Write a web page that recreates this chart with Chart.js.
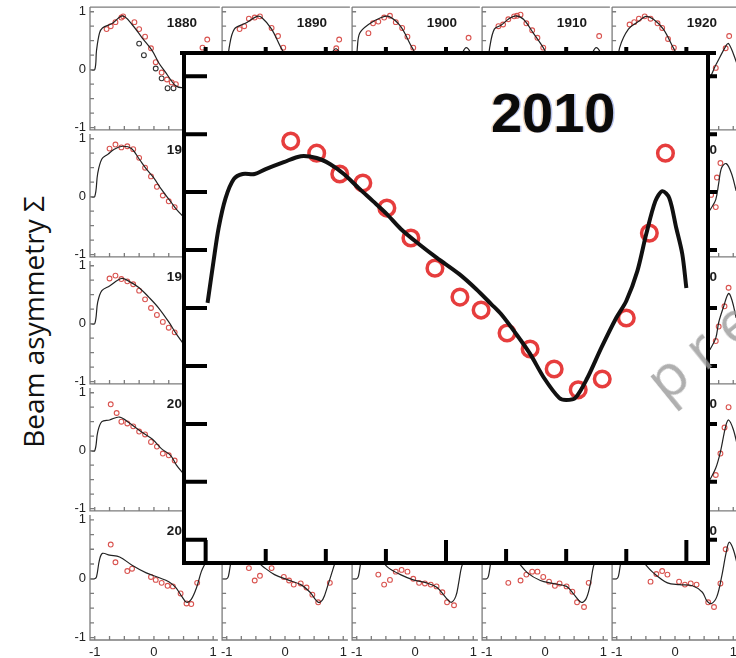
<!DOCTYPE html>
<html>
<head>
<meta charset="utf-8">
<script src="https://cdn.jsdelivr.net/npm/chart.js@4.4.1/dist/chart.umd.min.js"></script>
<style>
  html, body { margin: 0; padding: 0; background: #fff; }
  #wrap { position: relative; width: 736px; height: 658px; overflow: hidden; background: #fff; }
  #wrap canvas { position: absolute; }
  #ytitle {
    position: absolute; left: 33px; top: 322px;
    transform: translate(-50%, -50%) rotate(-90deg);
    font: 28px 'Open Sans', sans-serif; color: #111; white-space: nowrap;
  }
  #wm {
    position: absolute; left: 634px; top: 364px;
    transform: rotate(-39deg); transform-origin: 0 0;
    font: 58px 'Open Sans', sans-serif; color: rgba(155,155,155,0.8);
    letter-spacing: 14px; white-space: nowrap; line-height: 1;
  }
</style>
</head>
<body>
<div id="wrap">
  <div id="ytitle">Beam asymmetry Σ</div>
</div>
<script>
// ── Data: small panels (x = cos θ, y = Σ) ───────────────────────────────────
const smallTicks = [-1, -0.75, -0.5, -0.25, 0, 0.25, 0.5, 0.75, 1];
const axisLabels = [-1, 0, 1];

const curve1880 = [[-1.08,0],[-1.0,0],[-0.97,0.33],[-0.92,0.63],[-0.87,0.72],[-0.7,0.8],[-0.53,0.93],[-0.37,0.78],[-0.2,0.55],[-0.03,0.33],[0.08,0.12],[0.2,-0.05],[0.28,-0.17],[0.37,-0.28],[0.5,-0.3],[0.65,-0.1],[0.8,0.25],[0.88,0.32],[1.0,0.2]];
const pts1880   = [[-0.8,0.70],[-0.73,0.75],[-0.65,0.82],[-0.55,0.9],[-0.52,0.92],[-0.33,0.82],[-0.25,0.70],[-0.15,0.57],[-0.05,0.37],[0.03,0.13],[0.13,-0.05],[0.22,-0.17],[0.3,-0.22],[0.37,-0.25],[0.82,0.38],[0.9,0.52]];
const blk1880   = [[-0.25,0.45],[-0.17,0.25],[0.03,0.02],[0.13,-0.15],[0.23,-0.32],[0.33,-0.32]];

const curve1890 = [[-1.08,0],[-1.0,0],[-0.96,0.37],[-0.87,0.7],[-0.68,0.8],[-0.48,0.92],[-0.4,0.9],[-0.23,0.7],[-0.07,0.38],[0.1,0.1],[0.3,-0.15],[0.5,-0.25],[0.65,-0.05],[0.8,0.28],[0.88,0.36],[1.0,0.2]];
const pts1890   = [[-0.78,0.7],[-0.7,0.75],[-0.62,0.88],[-0.52,0.9],[-0.43,0.92],[-0.23,0.72],[-0.12,0.58],[-0.03,0.38],[0.88,0.37],[0.93,0.52]];

const curve1900 = [[-1.08,0],[-1.02,0],[-0.99,0.38],[-0.95,0.63],[-0.8,0.78],[-0.58,0.9],[-0.45,0.92],[-0.25,0.75],[-0.05,0.38],[0.15,0.05],[0.35,-0.2],[0.55,-0.25],[0.7,0],[0.82,0.3],[0.88,0.38],[0.95,0.3],[1.05,0.05]];
const pts1900   = [[-0.8,0.63],[-0.72,0.8],[-0.63,0.83],[-0.53,0.9],[-0.43,0.93],[-0.33,0.82],[-0.22,0.72],[-0.13,0.57],[-0.03,0.38],[0.92,0.55]];

const curve1910 = [[-1.08,0],[-1.0,0],[-0.95,0.38],[-0.87,0.7],[-0.75,0.77],[-0.62,0.88],[-0.5,0.93],[-0.37,0.87],[-0.2,0.63],[-0.03,0.38],[0.15,0.05],[0.35,-0.2],[0.55,-0.25],[0.7,0],[0.82,0.3],[0.88,0.38],[0.95,0.3],[1.05,0.05]];
const pts1910   = [[-0.8,0.75],[-0.72,0.78],[-0.63,0.87],[-0.53,0.92],[-0.48,0.93],[-0.42,0.95],[-0.32,0.8],[-0.22,0.68],[-0.13,0.55],[-0.03,0.38],[0.93,0.58]];

const curve1920 = [[-1.08,0],[-1.0,0],[-0.95,0.38],[-0.8,0.7],[-0.63,0.83],[-0.5,0.92],[-0.37,0.87],[-0.2,0.7],[-0.03,0.38],[0.15,0.05],[0.35,-0.2],[0.55,-0.2],[0.7,0.08],[0.88,0.42],[0.92,0.45],[1.0,0.28],[1.08,0.05]];
const pts1920   = [[-0.78,0.78],[-0.7,0.82],[-0.62,0.88],[-0.52,0.92],[-0.42,0.88],[-0.3,0.8],[-0.22,0.72],[-0.12,0.53],[-0.02,0.38],[0.7,0.03],[0.87,0.37],[0.93,0.58]];

const curve1930 = [[-1.08,0],[-1.0,0],[-0.95,0.4],[-0.88,0.65],[-0.78,0.73],[-0.67,0.82],[-0.53,0.87],[-0.38,0.83],[-0.25,0.65],[-0.13,0.48],[0,0.32],[0.13,0.12],[0.28,-0.08],[0.38,-0.22],[0.5,-0.35]];
const pts1930   = [[-0.75,0.83],[-0.65,0.9],[-0.55,0.85],[-0.45,0.87],[-0.35,0.82],[-0.25,0.67],[-0.15,0.5],[-0.05,0.35],[0.05,0.17],[0.15,0.02],[0.25,-0.08],[0.35,-0.18]];

const curve1980 = [[-1.08,0],[-1.0,0],[-0.95,0.37],[-0.88,0.57],[-0.75,0.65],[-0.55,0.78],[-0.42,0.73],[-0.25,0.62],[-0.08,0.45],[0.08,0.27],[0.25,0.03],[0.38,-0.18],[0.5,-0.35]];
const pts1980   = [[-0.75,0.78],[-0.65,0.83],[-0.55,0.77],[-0.45,0.73],[-0.35,0.68],[-0.25,0.57],[-0.15,0.42],[-0.05,0.27],[0.05,0.15],[0.15,0.03],[0.25,-0.07],[0.35,-0.15]];

const curve2030 = [[-1.08,0],[-1.0,0],[-0.95,0.32],[-0.88,0.5],[-0.75,0.53],[-0.58,0.58],[-0.42,0.48],[-0.22,0.33],[-0.03,0.2],[0.13,0.03],[0.28,-0.08],[0.38,-0.25],[0.5,-0.4]];
const pts2030   = [[-0.73,0.8],[-0.63,0.65],[-0.55,0.5],[-0.45,0.47],[-0.35,0.42],[-0.25,0.33],[-0.15,0.28],[-0.05,0.15],[0.05,0.07],[0.15,-0.05],[0.25,-0.08],[0.35,-0.17]];

const curve2080 = [[-1.08,0],[-1.0,0],[-0.97,0.03],[-0.92,0.32],[-0.87,0.43],[-0.75,0.4],[-0.58,0.37],[-0.37,0.23],[-0.13,0.1],[0.08,0.02],[0.25,-0.05],[0.37,-0.15],[0.47,-0.3],[0.55,-0.4],[0.63,-0.35],[0.72,-0.15],[0.8,0.12],[0.87,0.27],[0.95,0.45]];
const pts2080   = [[-0.73,0.58],[-0.65,0.28],[-0.45,0.13],[-0.37,0.17],[-0.05,0.03],[0.03,-0.02],[0.13,-0.07],[0.23,-0.12],[0.32,-0.13],[0.45,-0.25],[0.55,-0.42],[0.63,-0.43],[0.73,-0.07]];

const curve2090 = [[-1.08,0],[-1.0,0],[-0.97,0.05],[-0.92,0.32],[-0.87,0.42],[-0.6,0.38],[-0.37,0.2],[-0.18,0.07],[0.05,-0.02],[0.27,-0.1],[0.43,-0.23],[0.57,-0.4],[0.65,-0.35],[0.73,-0.13],[0.82,0.15],[0.9,0.4]];
const pts2090   = [[-0.62,0.18],[-0.52,-0.03],[-0.43,0.05],[-0.23,0.18],[-0.02,0.03],[0.07,-0.03],[0.15,-0.1],[0.27,-0.08],[0.37,-0.15],[0.47,-0.27],[0.57,-0.4],[0.77,-0.07]];

const curve2100 = [[-1.08,0],[-1.0,0],[-0.97,0.05],[-0.92,0.32],[-0.87,0.4],[-0.6,0.32],[-0.45,0.18],[-0.25,0.07],[-0.03,-0.02],[0.2,-0.07],[0.38,-0.15],[0.53,-0.32],[0.62,-0.4],[0.7,-0.3],[0.75,-0.07],[0.8,0.2],[0.88,0.4]];
const pts2100   = [[-0.63,0.07],[-0.53,-0.1],[-0.43,-0.02],[-0.33,0.12],[-0.23,0.15],[-0.13,0.12],[-0.03,0],[0.07,-0.07],[0.17,-0.08],[0.27,-0.1],[0.37,-0.13],[0.47,-0.23],[0.55,-0.4],[0.67,-0.45]];

const curve2110 = [[-1.08,0],[-1.0,0],[-0.97,0.05],[-0.92,0.32],[-0.87,0.4],[-0.6,0.38],[-0.5,0.32],[-0.3,0.1],[-0.08,-0.03],[0.13,-0.08],[0.37,-0.13],[0.5,-0.27],[0.62,-0.4],[0.7,-0.35],[0.77,-0.13],[0.83,0.2],[0.9,0.4]];
const pts2110   = [[-0.63,-0.07],[-0.42,-0.03],[-0.32,0.07],[-0.22,0.12],[-0.13,0.12],[-0.03,0.03],[0.07,-0.05],[0.17,-0.12],[0.25,-0.08],[0.37,-0.13],[0.47,-0.22],[0.55,-0.4],[0.67,-0.48],[0.75,-0.07]];

const curve2120 = [[-1.08,0],[-1.0,0],[-0.97,0.05],[-0.92,0.32],[-0.87,0.4],[-0.6,0.38],[-0.53,0.27],[-0.37,0.1],[-0.13,-0.07],[0.08,-0.1],[0.3,-0.12],[0.47,-0.23],[0.55,-0.38],[0.63,-0.42],[0.72,-0.3],[0.8,0.03],[0.88,0.45],[0.93,0.62],[1.0,0.5],[1.08,0.2]];
const pts2120   = [[-0.42,-0.05],[-0.32,0.08],[-0.22,0.13],[-0.13,0.07],[0.07,-0.05],[0.17,-0.1],[0.27,-0.08],[0.37,-0.1],[0.57,-0.4],[0.67,-0.48],[0.78,-0.08],[0.87,0.5]];

// col 5, rows 2–4: only the sliver right of the inset is readable
const curve1970 = [[0.55,-0.3],[0.62,-0.2],[0.7,-0.05],[0.75,0.23],[0.8,0.5],[0.88,0.57],[0.97,0.4],[1.05,0.1]];
const pts1970   = [[0.62,0.03],[0.7,-0.18],[0.72,0.33],[0.78,0.58]];
const curve2020 = [[0.6,-0.45],[0.7,-0.25],[0.75,0.02],[0.83,0.28],[0.92,0.52],[0.98,0.4],[1.05,0.1]];
const pts2020   = [[0.7,-0.3],[0.75,-0.05],[0.85,0.3],[0.92,0.62]];
const curve2070 = [[0.6,-0.5],[0.7,-0.3],[0.78,-0.02],[0.87,0.42],[0.92,0.53],[1.0,0.37],[1.08,0.05]];
const pts2070   = [[0.7,-0.42],[0.78,-0.05],[0.85,0.4],[0.92,0.75]];

// ── Data: the enlarged 2010 panel ───────────────────────────────────────────
const insetLabel = '2010';
const curve2010 = [[-0.992,0.022],[-0.967,0.203],[-0.946,0.345],[-0.917,0.474],[-0.883,0.556],[-0.846,0.578],[-0.796,0.578],[-0.75,0.599],[-0.675,0.629],[-0.604,0.655],[-0.538,0.647],[-0.483,0.621],[-0.425,0.578],[-0.363,0.517],[-0.304,0.461],[-0.246,0.405],[-0.188,0.341],[-0.113,0.276],[-0.038,0.216],[0.054,0.147],[0.125,0.082],[0.188,0.017],[0.229,-0.026],[0.292,-0.112],[0.35,-0.198],[0.408,-0.302],[0.471,-0.388],[0.5,-0.397],[0.538,-0.388],[0.588,-0.302],[0.646,-0.172],[0.708,-0.043],[0.75,0.03],[0.796,0.159],[0.833,0.319],[0.871,0.461],[0.9,0.504],[0.929,0.474],[0.958,0.345],[0.983,0.233],[1.0,0.086]];
const pts2010   = [[-0.646,0.72],[-0.538,0.668],[-0.442,0.578],[-0.346,0.539],[-0.246,0.431],[-0.146,0.302],[-0.046,0.172],[0.058,0.047],[0.146,-0.009],[0.254,-0.108],[0.35,-0.177],[0.45,-0.263],[0.55,-0.353],[0.65,-0.306],[0.75,-0.043],[0.846,0.323],[0.913,0.668]];
const insetTicks = [-1, -0.75, -0.5, -0.25, 0, 0.25, 0.5, 0.75, 1];
const insetMajor = [-1, 0, 1];

// ── Layout ──────────────────────────────────────────────────────────────────
const COL_X = [90, 220, 350, 480, 610];
const ROW_Y = [5, 132, 259, 386, 513];
const PANEL_W = 130, PANEL_H = 127;
const wrap = document.getElementById('wrap');

const panels = [
  { label: '1880', row: 0, col: 0, curve: curve1880, pts: pts1880, pts2: blk1880 },
  { label: '1890', row: 0, col: 1, curve: curve1890, pts: pts1890 },
  { label: '1900', row: 0, col: 2, curve: curve1900, pts: pts1900 },
  { label: '1910', row: 0, col: 3, curve: curve1910, pts: pts1910 },
  { label: '1920', row: 0, col: 4, curve: curve1920, pts: pts1920 },
  { label: '1930', row: 1, col: 0, curve: curve1930, pts: pts1930 },
  { label: '1970', row: 1, col: 4, curve: curve1970, pts: pts1970 },
  { label: '1980', row: 2, col: 0, curve: curve1980, pts: pts1980 },
  { label: '2020', row: 2, col: 4, curve: curve2020, pts: pts2020 },
  { label: '2030', row: 3, col: 0, curve: curve2030, pts: pts2030 },
  { label: '2070', row: 3, col: 4, curve: curve2070, pts: pts2070 },
  { label: '2080', row: 4, col: 0, curve: curve2080, pts: pts2080 },
  { label: '2090', row: 4, col: 1, curve: curve2090, pts: pts2090 },
  { label: '2100', row: 4, col: 2, curve: curve2100, pts: pts2100 },
  { label: '2110', row: 4, col: 3, curve: curve2110, pts: pts2110 },
  { label: '2120', row: 4, col: 4, curve: curve2120, pts: pts2120 },
];

const FONT = '"Liberation Sans", Arial, Helvetica, sans-serif';
const xy = arr => arr.map(([x, y]) => ({ x, y }));

// frame, inward ticks and labels of a small panel
const smallFrame = {
  id: 'smallFrame',
  afterDraw(chart, args, o) {
    const { ctx, chartArea: a, scales: { x, y } } = chart;
    ctx.save();
    ctx.strokeStyle = '#7c7c7c';
    ctx.lineWidth = 1.3;
    ctx.beginPath();
    ctx.moveTo(a.left, a.top); ctx.lineTo(a.left, a.bottom); ctx.lineTo(a.right, a.bottom);
    if (o.topLine) { ctx.moveTo(a.left, a.top); ctx.lineTo(a.right + 2, a.top); }
    smallTicks.forEach(v => {
      const px = x.getPixelForValue(v), py = y.getPixelForValue(v);
      ctx.moveTo(px, a.bottom); ctx.lineTo(px, a.bottom - 4);
      ctx.moveTo(a.left, py); ctx.lineTo(a.left + 4, py);
    });
    ctx.stroke();
    ctx.fillStyle = '#1a1a1a';
    ctx.font = 'bold 13.5px ' + FONT;
    ctx.textAlign = 'right'; ctx.textBaseline = 'middle';
    ctx.fillText(o.label, a.right - 21, a.top + 16);
    ctx.font = '13px ' + FONT;
    ctx.fillStyle = '#222';
    if (o.yLabels) {
      axisLabels.forEach(v => ctx.fillText(String(v), a.left - 4, y.getPixelForValue(v)));
    }
    if (o.xLabels) {
      ctx.textAlign = 'center';
      axisLabels.forEach(v => ctx.fillText(String(v), x.getPixelForValue(v), a.bottom + 12));
    }
    ctx.restore();
  }
};

function makePanel(p) {
  const padL = p.col === 0 ? 34 : 3, padR = 3, padT = 3, padB = p.row === 4 ? 22 : 3;
  const cv = document.createElement('canvas');
  cv.width = PANEL_W + padL + padR;
  cv.height = PANEL_H + padT + padB;
  cv.style.left = (COL_X[p.col] - padL) + 'px';
  cv.style.top = (ROW_Y[p.row] - padT) + 'px';
  wrap.appendChild(cv);

  const datasets = [
    { type: 'line', data: xy(p.curve), borderColor: '#222', borderWidth: 1.2, pointRadius: 0, tension: 0.35, fill: false },
    { type: 'scatter', data: xy(p.pts), pointRadius: 2.4, pointBorderWidth: 1.1, borderColor: '#d9534f', backgroundColor: 'rgba(0,0,0,0)' },
  ];
  if (p.pts2) datasets.push({ type: 'scatter', data: xy(p.pts2), pointRadius: 2.4, pointBorderWidth: 1.1, borderColor: '#333', backgroundColor: 'rgba(0,0,0,0)' });

  new Chart(cv, {
    type: 'scatter',
    data: { datasets },
    options: {
      responsive: false, animation: false, events: [],
      layout: { padding: { left: padL, right: padR, top: padT, bottom: padB } },
      scales: {
        x: { type: 'linear', display: false, min: -1.08, max: 1.08 },
        y: { type: 'linear', display: false, min: -1.04, max: 1.08 },
      },
      plugins: {
        legend: { display: false }, tooltip: { enabled: false },
        smallFrame: { label: p.label, topLine: p.row === 0, yLabels: p.col === 0, xLabels: p.row === 4 },
      },
    },
    plugins: [smallFrame],
  });
}
panels.forEach(makePanel);

// ── Inset (2010) ────────────────────────────────────────────────────────────
const insetFrame = {
  id: 'insetFrame',
  beforeDraw(chart) {
    const { ctx, chartArea: a } = chart;
    ctx.save();
    ctx.fillStyle = '#fff';
    ctx.fillRect(a.left, a.top, a.right - a.left, a.bottom - a.top);
    ctx.restore();
  },
  afterDraw(chart) {
    const { ctx, chartArea: a, scales: { x, y } } = chart;
    ctx.save();
    ctx.strokeStyle = '#000';
    ctx.lineWidth = 4;
    ctx.strokeRect(a.left, a.top, a.right - a.left, a.bottom - a.top);
    ctx.beginPath();
    ctx.moveTo(a.left - 4, a.top); ctx.lineTo(a.left, a.top);
    ctx.moveTo(a.right, a.top); ctx.lineTo(a.right + 8, a.top);
    insetTicks.forEach(v => {
      const px = x.getPixelForValue(v), py = y.getPixelForValue(v);
      const len = insetMajor.includes(v) ? 23 : 14;
      ctx.moveTo(px, a.bottom); ctx.lineTo(px, a.bottom - len);   // bottom, inward
      ctx.moveTo(px, a.top); ctx.lineTo(px, a.top - 6);           // top, outward
      ctx.moveTo(a.left, py); ctx.lineTo(a.left + 23, py);        // left, inward
      ctx.moveTo(a.right, py); ctx.lineTo(a.right + 9, py);       // right, outward
    });
    ctx.stroke();
    ctx.font = 'bold 56px ' + FONT;
    ctx.textAlign = 'center'; ctx.textBaseline = 'middle';
    const lx = x.getPixelForValue(0.446), ly = y.getPixelForValue(0.825);
    ctx.fillStyle = 'rgba(200,120,40,0.35)';
    ctx.fillText(insetLabel, lx - 1.5, ly);
    ctx.fillStyle = 'rgba(40,80,200,0.35)';
    ctx.fillText(insetLabel, lx + 1.5, ly);
    ctx.fillStyle = '#0a0a0a';
    ctx.fillText(insetLabel, lx, ly);
    ctx.restore();
  }
};

(function makeInset() {
  const cv = document.createElement('canvas');
  cv.width = 570; cv.height = 545;
  cv.style.left = '165px'; cv.style.top = '38px';
  wrap.appendChild(cv);
  new Chart(cv, {
    type: 'scatter',
    data: {
      datasets: [
        { type: 'line', data: xy(curve2010), borderColor: '#111', borderWidth: 4, pointRadius: 0, tension: 0.3, fill: false },
        { type: 'scatter', data: xy(pts2010), pointRadius: 7.8, pointBorderWidth: 3.5, borderColor: 'rgba(228,45,45,0.92)', backgroundColor: 'rgba(0,0,0,0)' },
      ]
    },
    options: {
      responsive: false, animation: false, events: [],
      layout: { padding: { left: 19, right: 27, top: 15, bottom: 20 } },
      scales: {
        x: { type: 'linear', display: false, min: -1.09, max: 1.09 },
        y: { type: 'linear', display: false, min: -1.1, max: 1.1 },
      },
      plugins: { legend: { display: false }, tooltip: { enabled: false } },
    },
    plugins: [insetFrame],
  });
})();

// watermark on top of everything
const wm = document.createElement('div');
wm.id = 'wm';
wm.textContent = 'preliminary';
wrap.appendChild(wm);
</script>
</body>
</html>
